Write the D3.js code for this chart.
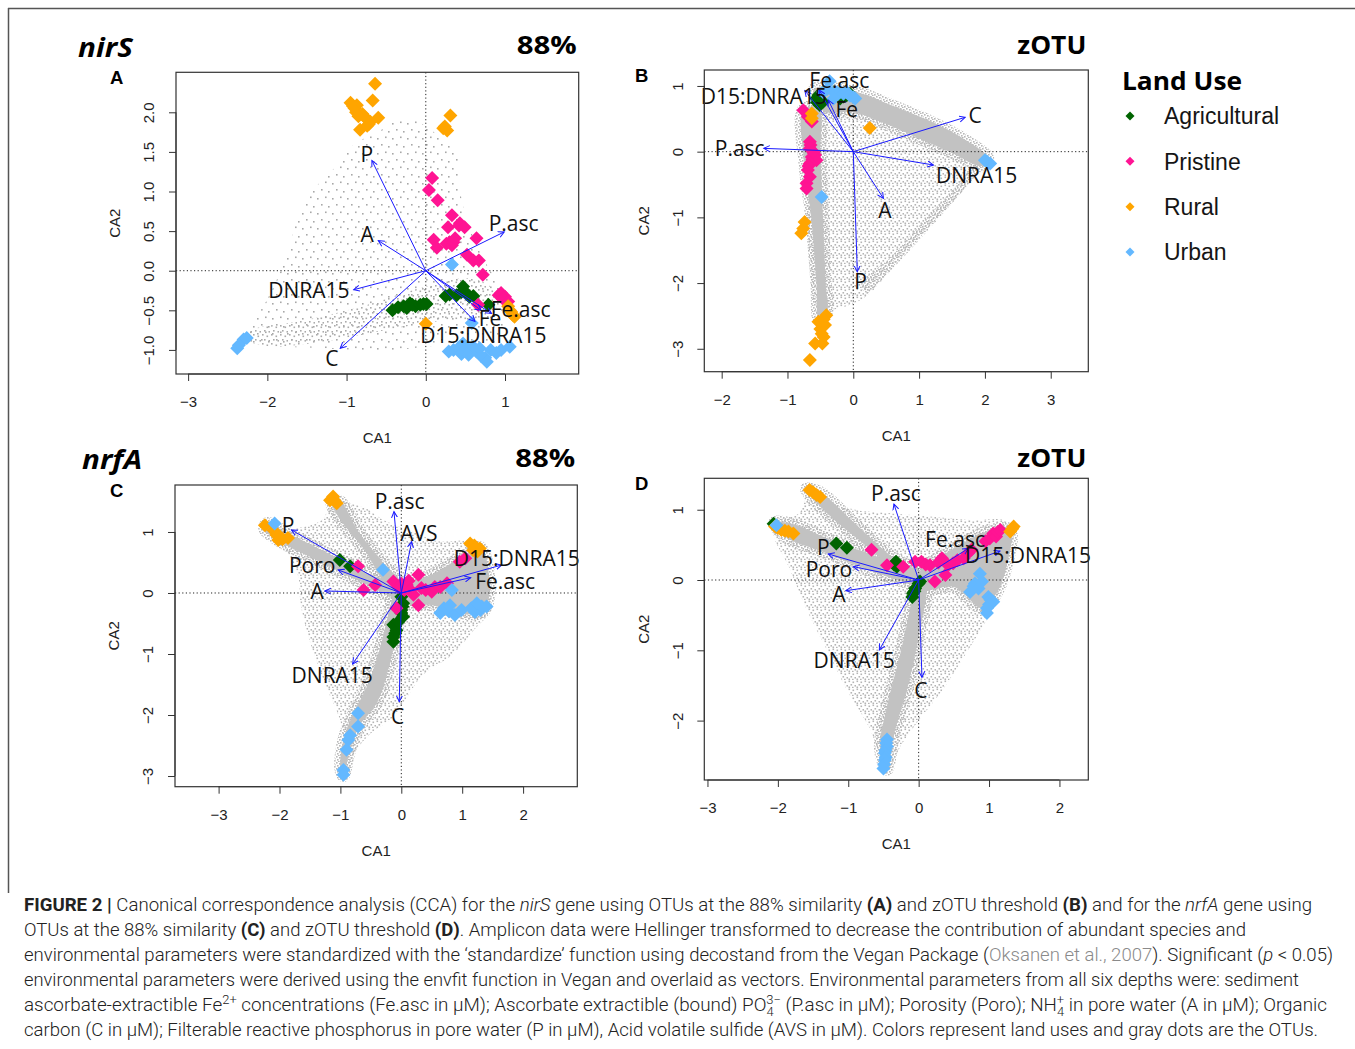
<!DOCTYPE html>
<html><head><meta charset="utf-8">
<script src="https://cdn.jsdelivr.net/npm/d3@7"></script>
<style>body{margin:0;background:#fff}svg{display:block}</style>
</head><body>
<svg id="fig" width="1355" height="1049"></svg>
<script>
// ---------------- DATA ----------------
const landUse = ["Agricultural", "Pristine", "Rural", "Urban"];
const landColors = ["#006400", "#FF1493", "#FFA500", "#63B8FF"];

// Panel A: nirS, 88% OTUs  [CA1, CA2]
const A_agr = [[-0.42,-0.50],[-0.35,-0.46],[-0.28,-0.45],[-0.24,-0.47],[-0.20,-0.41],[-0.17,-0.43],[-0.13,-0.45],[-0.07,-0.43],[-0.03,-0.42],[0.01,-0.42],[0.25,-0.32],[0.30,-0.30],[0.39,-0.31],[0.45,-0.27],[0.47,-0.20],[0.52,-0.29],[0.55,-0.33],[0.60,-0.32],[0.79,-0.43]];
const A_pri = [[0.08,1.17],[0.04,1.02],[0.15,0.89],[0.33,0.70],[0.28,0.55],[0.43,0.60],[0.42,0.57],[0.49,0.55],[0.10,0.39],[0.14,0.29],[0.26,0.34],[0.30,0.36],[0.33,0.32],[0.35,0.36],[0.37,0.41],[0.64,0.41],[0.52,0.20],[0.60,0.13],[0.67,0.13],[0.72,-0.05],[0.92,-0.31],[0.95,-0.28],[1.00,-0.33],[0.98,-0.36],[1.04,-0.39],[0.66,-0.43]];
const A_rur = [[-0.64,2.36],[-0.95,2.12],[-0.92,2.08],[-0.87,2.09],[-0.67,2.15],[-0.90,2.05],[-0.88,2.00],[-0.80,1.98],[-0.78,1.95],[-0.75,1.92],[-0.70,1.88],[-0.60,1.93],[-0.83,1.78],[-0.74,1.83],[-0.72,1.85],[-0.85,1.95],[0.31,1.96],[0.24,1.82],[0.27,1.77],[0.22,1.80],[0.00,-0.67],[1.06,-0.50],[1.08,-0.52],[1.10,-0.56],[1.12,-0.58],[1.04,-0.45]];
const A_urb = [[0.33,0.08],[-2.30,-0.87],[-2.36,-0.94],[-2.38,-0.98],[-2.26,-0.85],[0.29,-1.02],[0.35,-1.00],[0.41,-0.98],[0.45,-1.05],[0.52,-0.98],[0.54,-1.06],[0.64,-1.02],[0.68,-0.98],[0.70,-1.08],[0.75,-1.10],[0.77,-1.15],[0.82,-1.00],[0.89,-1.04],[0.95,-1.00],[1.06,-0.96],[0.60,-0.96],[0.47,-0.92],[0.58,-0.66]];
// vectors: [label, CA1 end, CA2 end, label CA1, label CA2]
const A_vec = [["P",-0.68,1.39,-0.744,1.466],["A",-0.60,0.38,-0.74,0.454],["P.asc",0.99,0.49,1.109,0.592],["DNRA15",-0.91,-0.24,-1.475,-0.252],["C",-1.08,-0.98,-1.185,-1.113],["Fe.asc",0.83,-0.54,1.197,-0.487],["Fe",0.62,-0.64,0.811,-0.60],["D15:DNRA15",0.70,-0.50,0.727,-0.815]];
const A_xticks = [-3,-2,-1,0,1];
const A_yticks = [-1.0,-0.5,0.0,0.5,1.0,1.5,2.0];
// OTU cloud outlines (CA1, CA2)
const A_cloud = [[-2.25,-0.72],[-2.05,-0.45],[-1.75,0.2],[-1.6,0.72],[-1.35,1.1],[-1.1,1.35],[-0.9,1.6],[-0.6,1.75],[-0.4,1.9],[-0.15,1.9],[0.1,1.75],[0.38,1.5],[0.42,1.1],[0.5,0.7],[0.7,0.2],[0.95,-0.25],[1.0,-0.6],[0.9,-0.9],[0.5,-0.95],[0.1,-0.95],[-0.4,-1.0],[-0.9,-1.0],[-1.5,-0.97],[-2.0,-0.95],[-2.25,-0.88]];
const A_ridges = [[[-2.3,-0.85],[-2.2,-0.75],[-1.5,-0.62],[-0.8,-0.45],[0.0,-0.2],[0.6,-0.1],[0.9,-0.3],[0.8,-0.6],[0.3,-0.62],[-0.5,-0.75],[-1.2,-0.88],[-2.0,-0.95]]];
const A_edges = [];

// Panel B: nirS, zOTU
const B_agr = [[-0.56,0.81],[-0.55,0.75],[-0.51,0.71],[-0.53,0.86],[-0.15,0.84],[-0.05,0.88],[-0.10,0.86],[-0.20,0.81],[-0.46,0.76]];
const B_pri = [[-0.76,0.63],[-0.69,0.53],[-0.63,0.46],[-0.66,0.15],[-0.65,0.10],[-0.66,0.05],[-0.60,-0.02],[-0.58,-0.05],[-0.63,-0.08],[-0.62,-0.12],[-0.56,-0.13],[-0.66,-0.18],[-0.68,-0.22],[-0.69,-0.28],[-0.66,-0.38],[-0.71,-0.48],[-0.71,-0.56],[-0.61,0.0]];
const B_rur = [[-0.63,0.58],[-0.63,0.51],[0.25,0.36],[-0.74,-1.07],[-0.76,-1.17],[-0.79,-1.24],[-0.41,-2.49],[-0.53,-2.59],[-0.45,-2.55],[-0.43,-2.64],[-0.50,-2.70],[-0.48,-2.77],[-0.45,-2.82],[-0.58,-2.92],[-0.47,-2.92],[-0.66,-3.17]];
const B_urb = [[-0.36,1.07],[-0.40,0.95],[-0.46,0.91],[-0.30,0.91],[-0.25,0.90],[-0.20,0.91],[-0.15,0.88],[-0.10,0.91],[-0.05,0.85],[0.00,0.83],[0.03,0.81],[-0.30,0.81],[2.03,-0.15],[2.08,-0.18],[2.00,-0.13],[-0.48,-0.69]];
const B_vec = [["D15:DNRA15",-0.736,0.929,-1.36,0.838],["Fe.asc",-0.518,0.939,-0.213,1.091],["Fe",-0.381,0.787,-0.10,0.65],["C",1.70,0.523,1.853,0.558],["P.asc",-1.36,0.05,-1.726,0.05],["DNRA15",1.218,-0.203,1.873,-0.355],["A",0.457,-0.711,0.482,-0.888],["P",0.061,-1.827,0.112,-1.98]];
const B_xticks = [-2,-1,0,1,2,3];
const B_yticks = [-3,-2,-1,0,1];
const B_cloud = [[-0.72,0.72],[-0.5,0.95],[-0.2,0.95],[0.1,0.85],[0.6,0.65],[1.2,0.4],[1.7,0.15],[2.05,-0.12],[1.95,-0.25],[1.75,-0.5],[1.4,-0.9],[1.0,-1.35],[0.6,-1.78],[0.2,-2.2],[-0.1,-2.35],[-0.4,-2.45],[-0.5,-2.6],[-0.62,-2.2],[-0.7,-1.0],[-0.75,-0.3],[-0.78,0.3]];
const B_ridges = [
  [[-0.6,0.95],[0.0,0.92],[0.6,0.7],[1.2,0.45],[1.7,0.18],[2.05,-0.1],[1.95,-0.22],[1.5,-0.02],[1.0,0.2],[0.5,0.42],[0.0,0.6],[-0.45,0.62]],
  [[-0.76,0.65],[-0.52,0.65],[-0.5,0.0],[-0.46,-1.0],[-0.42,-2.0],[-0.4,-2.45],[-0.52,-2.55],[-0.56,-2.0],[-0.64,-1.0],[-0.74,-0.2]]
];
const B_edges = [[[1.95,-0.2],[1.7,-0.55],[1.2,-1.1],[0.6,-1.75],[0.2,-2.15],[0.12,-2.02],[0.55,-1.62],[1.1,-1.02],[1.6,-0.48],[1.85,-0.18]]];

// Panel C: nrfA, 88% OTUs
const C_agr = [[-1.01,0.54],[-0.84,0.44],[0.00,-0.06],[0.03,-0.17],[0.02,-0.22],[0.00,-0.28],[0.00,-0.33],[0.03,-0.39],[-0.13,-0.52],[-0.10,-0.55],[-0.08,-0.61],[-0.10,-0.66],[-0.13,-0.72],[-0.13,-0.80],[-0.05,-0.47]];
const C_pri = [[-0.71,0.44],[-0.62,0.05],[-0.43,0.13],[-0.13,0.19],[0.00,0.15],[-0.05,0.10],[0.05,0.05],[0.09,0.13],[0.12,0.20],[0.15,0.05],[0.28,0.30],[0.33,0.08],[0.40,0.05],[0.50,0.02],[0.55,0.10],[0.64,0.10],[-0.08,-0.25],[0.28,-0.20],[0.20,-0.03],[0.96,0.51],[1.05,0.57],[0.75,0.16]];
const C_rur = [[-1.12,1.58],[-1.10,1.52],[-1.06,1.47],[-1.17,1.52],[-2.24,1.11],[-2.10,1.03],[-2.05,0.95],[-1.99,0.92],[-1.95,0.88],[-2.02,0.87],[-1.86,0.90],[1.13,0.81],[1.20,0.78],[1.29,0.73],[1.25,0.68],[1.18,0.70]];
const C_urb = [[-2.08,1.14],[-0.30,0.38],[0.83,0.05],[0.64,-0.33],[0.70,-0.25],[0.78,-0.30],[0.80,-0.20],[0.88,-0.36],[0.99,-0.28],[1.15,-0.25],[1.21,-0.31],[1.30,-0.28],[1.32,-0.22],[1.40,-0.22],[1.24,-0.17],[-0.71,-1.97],[-0.71,-2.19],[-0.84,-2.33],[-0.87,-2.41],[-0.90,-2.57],[-0.95,-2.90],[-0.95,-2.98]];
const C_vec = [["P.asc",-0.12,1.333,-0.027,1.497],["AVS",0.17,0.842,0.29,0.978],["P",-1.803,1.033,-1.858,1.109],["Poro",-1.036,0.377,-1.463,0.459],["A",-1.255,0.033,-1.381,0.033],["D15:DNRA15",1.649,0.459,1.896,0.568],["Fe.asc",1.14,0.251,1.704,0.186],["DNRA15",-0.80,-1.164,-1.134,-1.355],["C",-0.033,-1.781,-0.06,-2.027]];
const C_xticks = [-3,-2,-1,0,1,2];
const C_yticks = [-3,-2,-1,0,1];
const C_cloud = [[-2.27,1.14],[-1.9,1.05],[-1.3,1.2],[-1.12,1.6],[-0.95,1.5],[-0.6,1.4],[-0.3,1.2],[0.2,1.0],[0.6,0.85],[1.1,0.85],[1.35,0.7],[1.45,0.2],[1.45,-0.3],[1.2,-0.6],[0.85,-1.0],[0.35,-1.35],[0.1,-1.7],[-0.15,-2.05],[-0.5,-2.3],[-0.75,-2.6],[-0.9,-3.0],[-1.0,-2.95],[-0.95,-2.5],[-1.0,-2.1],[-1.25,-1.5],[-1.5,-0.8],[-1.65,-0.2],[-1.7,0.3],[-1.95,0.75],[-2.3,1.05]];
const C_ridges = [
  [[-2.2,1.15],[-1.9,1.0],[-1.2,0.65],[-0.5,0.3],[0.0,0.1],[0.0,-0.1],[-0.6,0.15],[-1.3,0.5],[-2.0,0.85],[-2.25,1.05]],
  [[-1.15,1.5],[-1.0,1.5],[-0.7,1.0],[-0.3,0.5],[0.0,0.15],[-0.2,0.1],[-0.6,0.7],[-1.0,1.2]],
  [[0.0,0.1],[0.5,0.3],[1.0,0.6],[1.3,0.75],[1.45,0.1],[1.35,-0.3],[1.1,-0.35],[0.5,-0.2],[0.0,-0.15]],
  [[0.05,0.0],[-0.05,-0.5],[-0.2,-1.2],[-0.4,-1.8],[-0.7,-2.2],[-0.85,-2.6],[-0.95,-3.0],[-1.0,-2.9],[-0.95,-2.4],[-0.8,-2.0],[-0.55,-1.5],[-0.35,-0.9],[-0.2,-0.3],[-0.1,0.0]]
];
const C_edges = [];

// Panel D: nrfA, zOTU
const D_agr = [[-2.06,0.80],[-1.17,0.52],[-1.02,0.46],[-0.35,0.22],[-0.34,0.24],[-0.32,0.26],[-0.31,0.19],[0.02,-0.02],[0.00,-0.05],[-0.05,-0.12],[-0.06,-0.16],[-0.08,-0.19],[-0.09,-0.24]];
const D_pri = [[-0.67,0.43],[-0.45,0.21],[-0.22,0.19],[-0.05,0.26],[0.04,0.26],[0.10,0.22],[0.16,0.21],[0.28,0.25],[0.33,0.31],[0.42,0.21],[0.38,0.07],[0.23,-0.02],[0.49,0.24],[0.55,0.28],[0.64,0.31],[0.70,0.38],[0.75,0.43],[0.95,0.55],[1.06,0.66],[1.01,0.59],[1.10,0.62],[1.12,0.68],[1.16,0.71]];
const D_rur = [[-1.55,1.28],[-1.50,1.25],[-1.45,1.21],[-1.40,1.18],[-2.04,0.76],[-2.00,0.74],[-1.95,0.71],[-1.90,0.70],[-1.85,0.69],[-1.78,0.66],[1.35,0.76],[1.33,0.73],[1.30,0.69]];
const D_urb = [[-2.02,0.78],[0.87,0.09],[0.80,-0.05],[0.78,-0.09],[0.85,-0.12],[0.73,-0.17],[0.90,-0.02],[0.99,-0.24],[1.02,-0.28],[1.06,-0.31],[1.00,-0.35],[0.97,-0.40],[0.97,-0.47],[-0.45,-2.27],[-0.46,-2.32],[-0.45,-2.37],[-0.47,-2.42],[-0.48,-2.46],[-0.47,-2.52],[-0.48,-2.56],[-0.49,-2.62],[-0.50,-2.68]];
const D_vec = [["P.asc",-0.351,1.081,-0.322,1.232],["Fe.asc",0.706,0.45,0.517,0.583],["D15:DNRA15",1.156,0.412,1.554,0.355],["P",-1.284,0.37,-1.355,0.469],["Poro",-0.929,0.19,-1.275,0.156],["A",-1.033,-0.152,-1.133,-0.204],["DNRA15",-0.559,-0.995,-0.915,-1.147],["C",0.047,-1.384,0.033,-1.564]];
const D_xticks = [-3,-2,-1,0,1,2];
const D_yticks = [-2,-1,0,1];
const D_cloud = [[-2.07,0.82],[-1.7,0.95],[-1.55,1.32],[-1.35,1.15],[-0.9,1.0],[-0.4,0.95],[0.2,0.9],[0.8,0.85],[1.2,0.85],[1.35,0.7],[1.25,0.3],[1.15,-0.15],[1.0,-0.5],[0.7,-1.0],[0.35,-1.55],[0.0,-2.0],[-0.25,-2.35],[-0.45,-2.72],[-0.55,-2.5],[-0.7,-2.1],[-1.0,-1.6],[-1.3,-1.0],[-1.6,-0.4],[-1.85,0.2],[-2.05,0.6]];
const D_ridges = [
  [[-2.05,0.82],[-1.8,0.8],[-1.2,0.55],[-0.5,0.3],[0.0,0.1],[0.0,-0.05],[-0.6,0.1],[-1.3,0.38],[-1.9,0.62]],
  [[-1.6,1.3],[-1.4,1.25],[-0.9,0.8],[-0.4,0.35],[0.0,0.1],[-0.2,0.05],[-0.7,0.45],[-1.3,0.95]],
  [[0.0,0.1],[0.5,0.45],[1.0,0.7],[1.3,0.72],[1.25,0.2],[1.1,-0.2],[0.9,-0.4],[0.5,-0.1],[0.0,-0.15]],
  [[0.1,0.0],[0.0,-0.8],[-0.15,-1.5],[-0.35,-2.2],[-0.45,-2.7],[-0.55,-2.4],[-0.45,-1.8],[-0.25,-1.0],[-0.1,-0.3],[-0.05,0.0]]
];
const D_edges = [];

// ---------------- LAYOUT ----------------
const panels = [
  {key:"A", gene:"nirS", thr:"88%", box:[176,72.3,578.7,374], xd:[-3.153,1.93], yd:[-1.304,2.505],
   xt:A_xticks, yt:A_yticks, yfmt:d3.format(".1f"), groups:[A_agr,A_pri,A_rur,A_urb], vec:A_vec, cloud:A_cloud, ridges:A_ridges, edges:A_edges,
   cloudFill:"url(#sparse)", ridgeFill:"url(#sparse2)", halo:false},
  {key:"B", gene:null, thr:"zOTU", box:[704.3,70,1088.3,371.7], xd:[-2.264,3.571], yd:[-3.349,1.243],
   xt:B_xticks, yt:B_yticks, yfmt:d3.format("d"), groups:[B_agr,B_pri,B_rur,B_urb], vec:B_vec, cloud:B_cloud, ridges:B_ridges, edges:B_edges,
   cloudFill:"url(#medium)", ridgeFill:"#c2c2c2", halo:true},
  {key:"C", gene:"nrfA", thr:"88%", box:[175,485,577.3,786.7], xd:[-3.716,2.89], yd:[-3.175,1.77],
   xt:C_xticks, yt:C_yticks, yfmt:d3.format("d"), groups:[C_agr,C_pri,C_rur,C_urb], vec:C_vec, cloud:C_cloud, ridges:C_ridges, edges:C_edges,
   cloudFill:"url(#medium)", ridgeFill:"#c2c2c2", halo:true},
  {key:"D", gene:null, thr:"zOTU", box:[704.3,478.3,1088.3,780], xd:[-3.045,2.41], yd:[-2.845,1.447],
   xt:D_xticks, yt:D_yticks, yfmt:d3.format("d"), groups:[D_agr,D_pri,D_rur,D_urb], vec:D_vec, cloud:D_cloud, ridges:D_ridges, edges:D_edges,
   cloudFill:"url(#medium)", ridgeFill:"#c2c2c2", halo:true}
];

const svg = d3.select("#fig");
const defs = svg.append("defs");

function makePattern(id, size, dots, col) {
  const p = defs.append("pattern").attr("id", id).attr("patternUnits","userSpaceOnUse")
    .attr("width", size).attr("height", size);
  dots.forEach(d => p.append("rect").attr("x", d[0]).attr("y", d[1]).attr("width",1.6).attr("height",1.6).attr("fill", col));
}
makePattern("sparse", 15, [[2,3],[10,1.5],[6,9],[13,11]], "#a8a8a8");
makePattern("sparse2", 9, [[1,1],[5.5,2.5],[3,6],[7.5,7]], "#aaaaaa");
makePattern("medium", 8, [[0.5,0.5],[4.5,1.5],[2.5,4],[6.5,5],[0.5,6.5],[4,6.8]], "#b4b4b4");
makePattern("dense", 6, [[0,0],[3,1],[1,3],[4,4],[5.5,2],[2,5]], "#b8b8b8");

defs.append("marker").attr("id","arr").attr("markerUnits","userSpaceOnUse")
  .attr("markerWidth",10).attr("markerHeight",10).attr("refX",6).attr("refY",3.5)
  .attr("orient","auto")
  .append("path").attr("d","M0,0.5 L6,3.5 L0,6.5").attr("fill","none").attr("stroke","#1a1aff").attr("stroke-width",1);

const diamond = r => `M0,${-r}L${r},0L0,${r}L${-r},0Z`;

panels.forEach((P, i) => {
  const [x0,y0,x1,y1] = P.box;
  const x = d3.scaleLinear().domain(P.xd).range([x0,x1]);
  const y = d3.scaleLinear().domain(P.yd).range([y1,y0]);
  const g = svg.append("g");
  const clipId = "clip" + P.key;
  defs.append("clipPath").attr("id", clipId).append("rect")
    .attr("x",x0).attr("y",y0).attr("width",x1-x0).attr("height",y1-y0);
  const pg = g.append("g").attr("clip-path", `url(#${clipId})`);

  const area = d3.line().x(d=>x(d[0])).y(d=>y(d[1])).curve(d3.curveCatmullRomClosed.alpha(0.5));
  pg.append("path").attr("d", area(P.cloud)).attr("fill", P.cloudFill);
  P.edges.forEach(rg => pg.append("path").attr("d", area(rg)).attr("fill","url(#dense)"));
  if (P.halo) P.ridges.forEach(rg => pg.append("path").attr("d", area(rg)).attr("fill","url(#dense)")
      .attr("stroke","url(#dense)").attr("stroke-width",12).attr("stroke-linejoin","round"));
  P.ridges.forEach(rg => pg.append("path").attr("d", area(rg)).attr("fill", P.ridgeFill));

  pg.append("line").attr("x1",x0).attr("x2",x1).attr("y1",y(0)).attr("y2",y(0))
    .attr("stroke","#222").attr("stroke-width",1).attr("stroke-dasharray","1.2,2.4");
  pg.append("line").attr("y1",y0).attr("y2",y1).attr("x1",x(0)).attr("x2",x(0))
    .attr("stroke","#222").attr("stroke-width",1).attr("stroke-dasharray","1.2,2.4");

  P.groups.forEach((pts, k) => {
    pg.selectAll(null).data(pts).join("path")
      .attr("d", diamond(7)).attr("transform", d => `translate(${x(d[0])},${y(d[1])})`)
      .attr("fill", landColors[k]);
  });

  pg.selectAll(null).data(P.vec).join("line")
    .attr("x1", x(0)).attr("y1", y(0)).attr("x2", d=>x(d[1])).attr("y2", d=>y(d[2]))
    .attr("stroke","#1a1aff").attr("stroke-width",1).attr("marker-end","url(#arr)");
  g.selectAll(null).data(P.vec).join("text")
    .attr("x", d=>x(d[3])).attr("y", d=>y(d[4])).attr("dy","0.36em")
    .attr("text-anchor","middle").attr("font-family","'Open Sans', sans-serif").attr("font-size",21)
    .attr("fill","#111").text(d=>d[0]);

  g.append("rect").attr("x",x0).attr("y",y0).attr("width",x1-x0).attr("height",y1-y0)
    .attr("fill","none").attr("stroke","#333").attr("stroke-width",1.2);

  const xa = g.append("g").attr("transform",`translate(0,${y1})`)
    .call(d3.axisBottom(x).tickValues(P.xt).tickSize(7).tickSizeOuter(0).tickFormat(d3.format("d")));
  xa.select(".domain").attr("d", `M${x(P.xt[0])},0H${x(P.xt[P.xt.length-1])}`).attr("stroke","#333");
  xa.selectAll(".tick line").attr("stroke","#333");
  xa.selectAll("text").attr("y",28).attr("dy","0.36em").attr("font-size",15)
    .attr("font-family","'Liberation Sans', Arial, sans-serif").attr("fill","#222");
  const ya = g.append("g").attr("transform",`translate(${x0},0)`)
    .call(d3.axisLeft(y).tickValues(P.yt).tickSize(7).tickSizeOuter(0).tickFormat(P.yfmt));
  ya.select(".domain").attr("d", `M0,${y(P.yt[0])}V${y(P.yt[P.yt.length-1])}`).attr("stroke","#333");
  ya.selectAll(".tick line").attr("stroke","#333");
  ya.selectAll("text").attr("x",0).attr("y",0).attr("dy","0.36em").attr("text-anchor","middle")
    .attr("transform","translate(-27,0) rotate(-90)").attr("font-size",15)
    .attr("font-family","'Liberation Sans', Arial, sans-serif").attr("fill","#222");

  g.append("text").attr("x",(x0+x1)/2).attr("y",y1+64).attr("dy","0.36em").attr("text-anchor","middle")
    .attr("font-family","'Liberation Sans', Arial, sans-serif").attr("font-size",15).attr("fill","#222").text("CA1");
  g.append("text").attr("transform",`translate(${x0-61},${(y0+y1)/2}) rotate(-90)`).attr("dy","0.36em")
    .attr("text-anchor","middle").attr("font-family","'Liberation Sans', Arial, sans-serif").attr("font-size",15)
    .attr("fill","#222").text("CA2");

  g.append("text").attr("x", i%2===0 ? 110 : 635).attr("y", y0 + 11.5)
    .attr("font-family","'Liberation Sans', Arial, sans-serif").attr("font-weight","bold").attr("font-size",18.5)
    .attr("fill","#000").text(P.key);
  const hy = i < 2 ? 54 : 466.5;
  const thrW = P.thr === "88%" ? 60 : 69;
  g.append("text").attr("x", x1 - 2 - thrW).attr("y", hy)
    .attr("font-family","'Open Sans', sans-serif").attr("font-weight","bold").attr("font-size",25)
    .attr("textLength", thrW).attr("lengthAdjust","spacingAndGlyphs")
    .attr("fill","#000").text(P.thr);
  if (P.gene) {
    g.append("text").attr("x", i===0 ? 78 : 82).attr("y", hy + 2.5)
      .attr("font-family","'Open Sans', sans-serif").attr("font-weight","bold").attr("font-style","italic")
      .attr("font-size",27).attr("textLength", i===0 ? 55 : 60).attr("lengthAdjust","spacingAndGlyphs")
      .attr("fill","#000").text(P.gene);
  }
});

// legend
const lg = svg.append("g");
lg.append("text").attr("x",1122).attr("y",90).attr("font-family","'Open Sans', sans-serif")
  .attr("font-weight","bold").attr("font-size",25).attr("textLength",120).attr("lengthAdjust","spacingAndGlyphs")
  .attr("fill","#000").text("Land Use");
const ly = d3.scalePoint().domain(landUse).range([116, 252]);
landUse.forEach((name, k) => {
  lg.append("path").attr("d", diamond(4.5)).attr("transform",`translate(1130,${ly(name)})`).attr("fill", landColors[k]);
  lg.append("text").attr("x",1164).attr("y",ly(name)).attr("dy","0.36em")
    .attr("font-family","'Liberation Sans', Arial, sans-serif").attr("font-size",23).attr("fill","#151515").text(name);
});

svg.append("path").attr("d","M8,8.5H1355M8.5,8V893").attr("fill","none").attr("stroke","#555").attr("stroke-width",1.5);

// caption
const capLines = [
  {w:1288, parts:[["FIGURE 2 |","b"],[" Canonical correspondence analysis (CCA) for the "],["nirS","i"],[" gene using OTUs at the 88% similarity "],["(A)","b"],[" and zOTU threshold "],["(B)","b"],[" and for the "],["nrfA","i"],[" gene using"]]},
  {w:1222, parts:[["OTUs at the 88% similarity "],["(C)","b"],[" and zOTU threshold "],["(D)","b"],[". Amplicon data were Hellinger transformed to decrease the contribution of abundant species and"]]},
  {w:1309, parts:[["environmental parameters were standardized with the ‘standardize’ function using decostand from the Vegan Package ("],["Oksanen et al., 2007","g"],["). Significant ("],["p","i"],[" < 0.05)"]]},
  {w:1275, parts:[["environmental parameters were derived using the envfit function in Vegan and overlaid as vectors. Environmental parameters from all six depths were: sediment"]]},
  {w:1303, parts:[["ascorbate-extractible Fe"],["2+","sup"],[" concentrations (Fe.asc in μM); Ascorbate extractible (bound) PO"],["4","sub"],["3−","supx"],[" (P.asc in μM); Porosity (Poro); NH"],["4","sub"],["+","supx"],[" in pore water (A in μM); Organic"]]},
  {w:1294, parts:[["carbon (C in μM); Filterable reactive phosphorus in pore water (P in μM), Acid volatile sulfide (AVS in μM). Colors represent land uses and gray dots are the OTUs."]]}
];
const capY = d3.scaleLinear().domain([0,5]).range([911,1036]);
capLines.forEach((ln, li) => {
  const t = svg.append("text").attr("x",24).attr("y",capY(li))
    .attr("font-family","Roboto, 'Liberation Sans', sans-serif").attr("font-weight",300).attr("font-size",17.5)
    .attr("fill","#222").attr("textLength", ln.w).attr("lengthAdjust","spacingAndGlyphs");
  let shift = 0;
  ln.parts.forEach(([s, st]) => {
    const ts = t.append("tspan").text(s);
    let dy = 0;
    if (st === "b") ts.attr("font-weight",700);
    if (st === "i") ts.attr("font-style","italic");
    if (st === "g") ts.attr("fill","#8a8a8a");
    if (st === "sup") { ts.attr("font-size",12); dy = -7 - shift; shift = -7; }
    else if (st === "sub") { ts.attr("font-size",12); dy = 5 - shift; shift = 5; }
    else if (st === "supx") { ts.attr("font-size",12).attr("dx",-6.8); dy = -7 - shift; shift = -7; }
    else { dy = -shift; shift = 0; }
    if (dy) ts.attr("dy", dy);
  });
});
</script>
</body></html>
